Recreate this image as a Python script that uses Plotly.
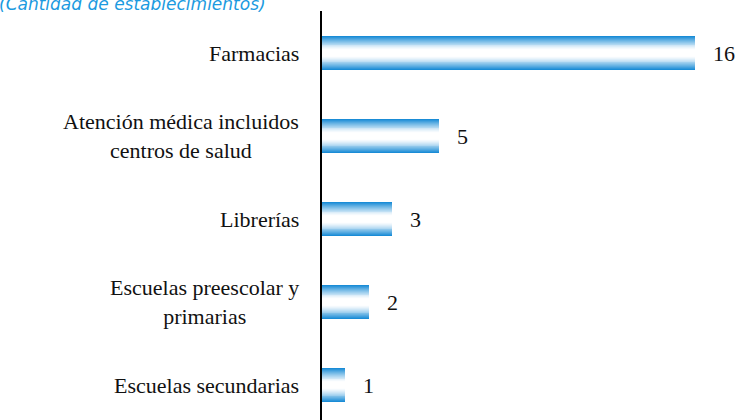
import plotly.graph_objects as go

categorias = ["Farmacias", "Atención médica incluidos<br>centros de salud", "Librerías",
              "Escuelas preescolar y<br>primarias", "Escuelas secundarias"]
valores = [16, 5, 3, 2, 1]
posiciones = [0, 1, 2, 3, 4]

titulo = "(Cantidad de establecimientos)"

azul = (26, 140, 214)
blanco = (255, 255, 255)
ancho_barra = 0.41
capas = 18
serif = "Liberation Serif, Times New Roman, serif"


def mezcla(t):
    # t = 1 borde (azul), t = 0 centro (blanco)
    k = max(0.0, (t - 0.2) / 0.8) ** 1.3
    r, g, b = [round(blanco[i] + (azul[i] - blanco[i]) * k) for i in range(3)]
    return f"rgb({r},{g},{b})"


fig = go.Figure()

# barras con degradado: capas superpuestas de ancho decreciente
for i in range(capas):
    t = (capas - i) / capas
    fig.add_trace(go.Bar(
        x=valores, y=posiciones, orientation="h",
        width=ancho_barra * t,
        marker=dict(color=mezcla(t), line=dict(width=0)),
        hoverinfo="skip", showlegend=False,
    ))

for v, p in zip(valores, posiciones):
    fig.add_annotation(x=v, y=p, text=str(v), showarrow=False,
                       xanchor="left", yanchor="middle", xshift=16,
                       font=dict(family=serif, size=22, color="#111111"))

for c, p in zip(categorias, posiciones):
    fig.add_annotation(x=0, xref="paper", y=p, text=c, showarrow=False,
                       xanchor="right", yanchor="middle", align="center", xshift=-21,
                       font=dict(family=serif, size=22, color="#111111"))

fig.add_annotation(x=0, xref="paper", y=1, yref="paper", text="<i>" + titulo + "</i>",
                   showarrow=False, xanchor="left", yanchor="bottom",
                   xshift=-325, yshift=-5,
                   font=dict(family="DejaVu Sans", size=17, color="#1b9ae0"))

fig.update_layout(
    width=740, height=420,
    margin=dict(l=322, r=0, t=11, b=0),
    paper_bgcolor="white", plot_bgcolor="white",
    barmode="overlay", bargap=0,
    xaxis=dict(visible=False, range=[0, 17.94]),
    yaxis=dict(range=[4.42, -0.506], showline=True, linecolor="black", linewidth=2,
               showticklabels=False, showgrid=False, zeroline=False, ticks=""),
)

fig.write_html("out.html", config={"displayModeBar": False},
               post_script="document.body.style.margin='0';")
